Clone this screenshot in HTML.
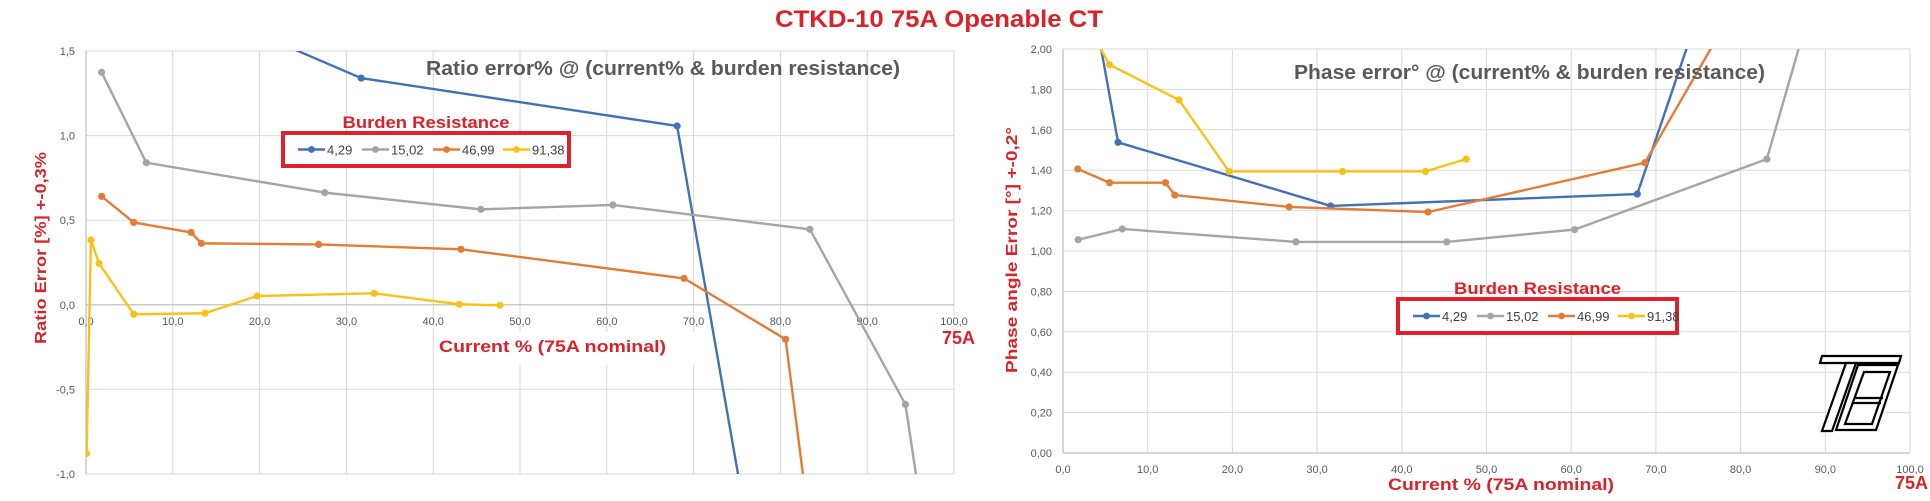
<!DOCTYPE html>
<html><head><meta charset="utf-8">
<style>
html,body{margin:0;padding:0;background:#fff;width:1930px;height:501px;overflow:hidden;}
svg{display:block;position:absolute;left:0;top:0;font-family:"Liberation Sans",sans-serif;}
</style></head>
<body>
<svg id="root" width="1930" height="501" viewBox="0 0 1930 501" xmlns="http://www.w3.org/2000/svg">
<defs>
<clipPath id="clipL"><rect x="86" y="51" width="871" height="423"/></clipPath>
<clipPath id="clipR"><rect x="1063" y="49" width="850" height="404"/></clipPath>
</defs>
<text x="939" y="27" text-anchor="middle" font-size="24" font-weight="bold" fill="#d8232a" textLength="328" lengthAdjust="spacingAndGlyphs">CTKD-10 75A Openable CT</text>
<g id="left"></g>
<g id="right"></g>
<g fill="#fff" stroke="#000" stroke-width="2.2">
<polygon points="1822,356 1901,356 1899,363 1820,363"/>
<polygon points="1846,363 1856,363 1832,431 1822,431"/>
<polygon points="1858,365 1898,365 1876,430 1836,430"/>
<polygon points="1864,372 1890,372 1872,424 1845,424"/>
<line x1="1855" y1="398" x2="1883" y2="398"/>
<line x1="1853" y1="403" x2="1881" y2="403"/>
</g>
</svg>
<script>
const NS='http://www.w3.org/2000/svg';
const xTicks=['0,0','10,0','20,0','30,0','40,0','50,0','60,0','70,0','80,0','90,0','100,0'];
const seriesNames=['4,29','15,02','46,99','91,38'];
const seriesColors=['#4470b8','#a5a5a5','#e27c36','#f7c21a'];
const ratioYTicks=['1,5','1,0','0,5','0,0','-0,5','-1,0'];
const ratioYVals=[1.5,1.0,0.5,0.0,-0.5,-1.0];
const phaseYTicks=['2,00','1,80','1,60','1,40','1,20','1,00','0,80','0,60','0,40','0,20','0,00'];
const phaseYVals=[2.0,1.8,1.6,1.4,1.2,1.0,0.8,0.6,0.4,0.2,0.0];
// Ratio error data
const ratioX_429=[6.7,31.7,68.1,83.3];
const ratioY_429=[1.89,1.34,1.057,-3.4];
const ratioX_1502=[1.8,6.95,27.5,45.5,60.7,83.4,94.4,96.5];
const ratioY_1502=[1.374,0.84,0.663,0.564,0.59,0.446,-0.588,-1.3];
const ratioX_4699=[1.8,5.5,12.1,13.3,26.8,43.2,68.9,80.6,84.6];
const ratioY_4699=[0.641,0.487,0.428,0.363,0.357,0.328,0.156,-0.204,-1.8];
const ratioX_9138=[0.07,0.57,1.5,5.5,13.7,19.7,33.2,43.0,47.7];
const ratioY_9138=[-0.878,0.383,0.245,-0.056,-0.05,0.052,0.068,0.003,-0.003];
// Phase error data
const phaseX_429=[2.0,6.5,31.6,67.8,83.3];
const phaseY_429=[2.58,1.538,1.223,1.282,3.2];
const phaseX_1502=[1.8,7.0,27.5,45.3,60.4,83.1,94.4];
const phaseY_1502=[1.056,1.109,1.045,1.045,1.106,1.455,3.1];
const phaseX_4699=[1.75,5.5,12.1,13.2,26.7,43.1,68.7,80.6];
const phaseY_4699=[1.406,1.338,1.338,1.277,1.218,1.193,1.437,2.3];
const phaseX_9138=[0.5,5.5,13.7,19.6,33.0,42.8,47.6];
const phaseY_9138=[2.3,1.922,1.748,1.394,1.394,1.394,1.455];

function mk(tag,attrs,parent){const e=document.createElementNS(NS,tag);for(const k in attrs)e.setAttribute(k,attrs[k]);parent.appendChild(e);return e;}
function txt(s,attrs,parent){const t=mk('text',attrs,parent);t.textContent=s;return t;}

function chart(g,cfg){
  const sx=v=>cfg.x0+(cfg.x1-cfg.x0)*v/100;
  const sy=v=>cfg.yTop+(cfg.yBot-cfg.yTop)*(cfg.vTop-v)/(cfg.vTop-cfg.vBot);
  const grid=mk('g',{},g);
  
  
  for(let i=0;i<xTicks.length;i++){
    const x=sx(i*10);
    mk('line',{x1:x,x2:x,y1:cfg.yTop,y2:cfg.yBot,stroke:'#d9d9d9','stroke-width':1},grid);
  }
  cfg.yVals.forEach(v=>{const y=sy(v);mk('line',{x1:cfg.x0,x2:cfg.x1,y1:y,y2:y,stroke:'#d9d9d9','stroke-width':1},grid);});
  const ax=mk('line',{x1:cfg.x0,x2:cfg.x1,y1:sy(0),y2:sy(0),stroke:'#bfbfbf','stroke-width':1.2},g);
  
  
  const ay=mk('line',{x1:cfg.x0,x2:cfg.x0,y1:cfg.yTop,y2:cfg.yBot,stroke:'#bfbfbf','stroke-width':1.2},g);
  
  
  if(cfg.xtBg){mk('rect',cfg.xtBg,g);}
  xTicks.forEach((s,i)=>{
    const t=txt(s,{x:sx(i*10),y:cfg.xLabY,'text-anchor':'middle','font-size':11,fill:'#595959'},g);
    
    
  });
  cfg.yTicks.forEach((s,i)=>{
    const t=txt(s,{x:cfg.x0-11,y:sy(cfg.yVals[i])+4,'text-anchor':'end','font-size':11,fill:'#595959'},g);
    
    
  });
  const sg=mk('g',{'clip-path':cfg.clip},g);
  cfg.series.forEach((s,k)=>{
    const pts=s[0].map((x,i)=>sx(x)+','+sy(s[1][i])).join(' ');
    const pl=mk('polyline',{points:pts,fill:'none',stroke:seriesColors[k],'stroke-width':2.4,'stroke-linejoin':'round'},sg);
    
    
    s[0].forEach((x,i)=>{
      const c=mk('circle',{cx:sx(x),cy:sy(s[1][i]),r:3.6,fill:seriesColors[k]},sg);
      
      
    });
  });
  const ct=txt(cfg.title,{x:cfg.titleX,y:cfg.titleY,'font-size':20,'font-weight':'bold',fill:'#595959',textLength:cfg.titleW,lengthAdjust:'spacingAndGlyphs'},g);
  
  
  const lg=mk('g',{},g);
  
  
  const L=cfg.leg;
  const lt=txt('Burden Resistance',{x:L.x+L.w/2,y:L.y-5,'text-anchor':'middle','font-size':17,'font-weight':'bold',fill:'#d8232a',textLength:167,lengthAdjust:'spacingAndGlyphs'},lg);
  
  
  mk('rect',{x:L.x,y:L.y,width:L.w,height:L.h,fill:'#fff',stroke:'#e0202a','stroke-width':4},lg);
  const offs=[15,79,150,220];
  seriesNames.forEach((n,k)=>{
    const e=mk('g',{},lg);
    
    
    const cy=L.y+L.h/2;
    mk('line',{x1:L.x+offs[k],x2:L.x+offs[k]+27,y1:cy,y2:cy,stroke:seriesColors[k],'stroke-width':2.4},e);
    mk('circle',{cx:L.x+offs[k]+13.5,cy:cy,r:3.4,fill:seriesColors[k]},e);
    txt(n,{x:L.x+offs[k]+29,y:cy+5,'font-size':13,fill:'#404040'},e);
  });
  const yt=txt(cfg.yTitle,{x:0,y:0,'font-size':16,'font-weight':'bold',fill:'#d8232a','text-anchor':'middle',transform:`translate(${cfg.yTitleX},${cfg.yTitleY}) rotate(-90)`,textLength:cfg.yTitleW,lengthAdjust:'spacingAndGlyphs'},g);
  
  
  const xt=txt('Current %   (75A nominal)',{x:cfg.xTitleX,y:cfg.xTitleY,'font-size':17,'font-weight':'bold',fill:'#d8232a',textLength:cfg.xTitleW,lengthAdjust:'spacingAndGlyphs','xml:space':'preserve'},g);
  
  
  const a=txt('75A',{x:cfg.a75X,y:cfg.a75Y,'font-size':18,'font-weight':'bold',fill:'#d8232a'},g);
  
  
}

chart(document.getElementById('left'),{
  x0:86,x1:954,yTop:51,yBot:474,vTop:1.5,vBot:-1.0,yVals:ratioYVals,yTicks:ratioYTicks,xLabY:325,clip:'url(#clipL)',
  xtBg:{x:434,y:332,width:262,height:33,fill:'#fff'},
  series:[[ratioX_429,ratioY_429],[ratioX_1502,ratioY_1502],[ratioX_4699,ratioY_4699],[ratioX_9138,ratioY_9138]],
  title:'Ratio error% @ (current% & burden resistance)',titleX:426,titleY:75,titleW:474,
  leg:{x:283,y:133,w:286,h:33},
  yTitle:'Ratio Error  [%]   +-0,3%',yTitleX:46,yTitleY:248,yTitleW:192,
  xTitleX:439,xTitleY:352,xTitleW:227,a75X:942,a75Y:344
});
chart(document.getElementById('right'),{
  x0:1063,x1:1910,yTop:49,yBot:453,vTop:2.0,vBot:0.0,yVals:phaseYVals,yTicks:phaseYTicks,xLabY:473,clip:'url(#clipR)',
  series:[[phaseX_429,phaseY_429],[phaseX_1502,phaseY_1502],[phaseX_4699,phaseY_4699],[phaseX_9138,phaseY_9138]],
  title:'Phase error° @ (current% & burden resistance)',titleX:1294,titleY:79,titleW:471,
  leg:{x:1398,y:299,w:279,h:34},
  yTitle:'Phase angle Error  [°]   +-0,2°',yTitleX:1017,yTitleY:250,yTitleW:246,
  xTitleX:1388,xTitleY:490,xTitleW:226,a75X:1895,a75Y:489
});
</script>
</body></html>
